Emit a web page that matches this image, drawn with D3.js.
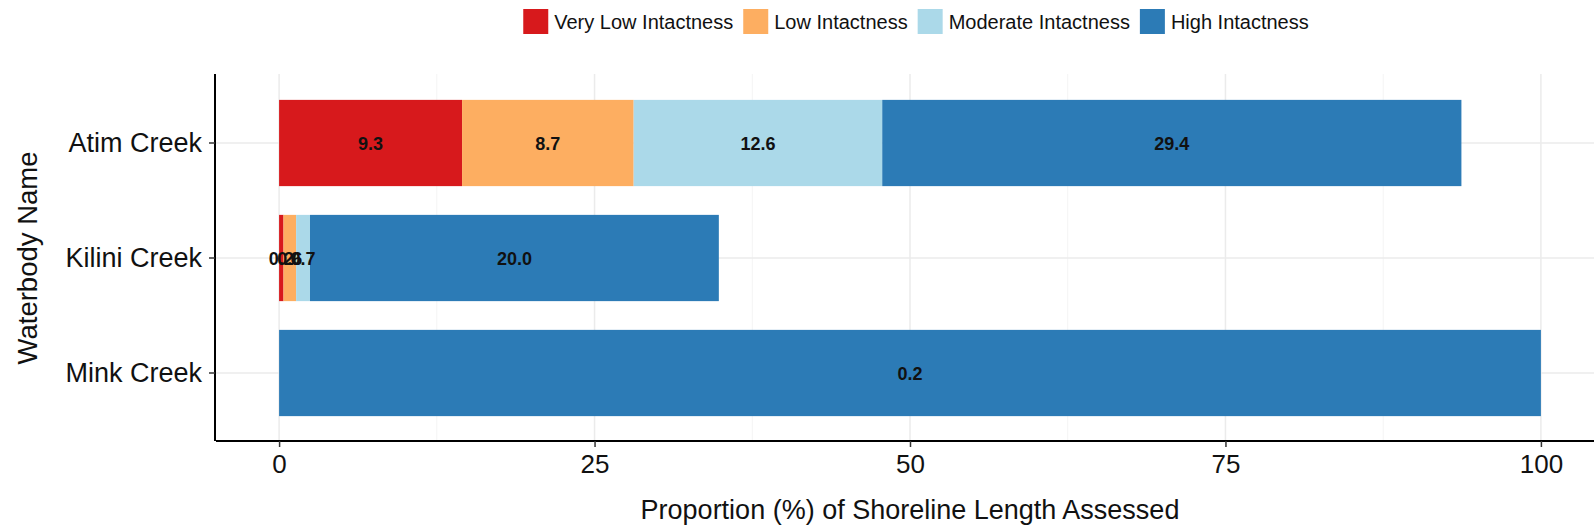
<!DOCTYPE html>
<html>
<head>
<meta charset="utf-8">
<script src="https://cdn.jsdelivr.net/npm/d3@7"></script>
<style>
  body { margin: 0; background: #fff; }
  svg { display: block; font-family: "Liberation Sans", Arial, sans-serif; }
</style>
</head>
<body>
<svg id="chart" width="1594" height="532"></svg>
<script>
const waterbodies = ["Atim Creek", "Kilini Creek", "Mink Creek"];
const classes = ["Very Low Intactness", "Low Intactness", "Moderate Intactness", "High Intactness"];
const classColors = ["#d7191c", "#fdae61", "#abd9e9", "#2c7bb6"];

// shoreline length (label values) per class, one entry per waterbody
const veryLowKm = [9.3, 0.2, null];
const lowKm = [8.7, 0.6, null];
const moderateKm = [12.6, 0.7, null];
const highKm = [29.4, 20.0, 0.2];

// proportion (%) of shoreline length assessed
const veryLowPct = [14.5, 0.35, 0];
const lowPct = [13.6, 1.0, 0];
const moderatePct = [19.7, 1.1, 0];
const highPct = [45.9, 32.4, 100];

const xTicks = [0, 25, 50, 75, 100];
const xMinor = [12.5, 37.5, 62.5, 87.5];

const pctByClass = [veryLowPct, lowPct, moderatePct, highPct];
const kmByClass = [veryLowKm, lowKm, moderateKm, highKm];

const table = waterbodies.map((name, i) => {
  const row = { name };
  classes.forEach((c, j) => { row[c] = pctByClass[j][i]; });
  return row;
});

const svg = d3.select("#chart");

const x = d3.scaleLinear().domain([-5, 105]).range([216, 1604]);
const y = d3.scaleBand()
  .domain(waterbodies)
  .range([74, 442])
  .paddingInner(0.25)
  .paddingOuter(0.225);

const panelTop = 74, panelBottom = 441;

// grid
const grid = svg.append("g");
grid.selectAll(".minor")
  .data(xMinor)
  .join("line")
  .attr("x1", (d) => x(d)).attr("x2", (d) => x(d))
  .attr("y1", panelTop).attr("y2", panelBottom)
  .attr("stroke", "#f4f4f4")
  .attr("stroke-width", 1);
grid.selectAll(".major")
  .data(xTicks)
  .join("line")
  .attr("x1", (d) => x(d)).attr("x2", (d) => x(d))
  .attr("y1", panelTop).attr("y2", panelBottom)
  .attr("stroke", "#ebebeb")
  .attr("stroke-width", 1.5);
grid.selectAll(".hline")
  .data(waterbodies)
  .join("line")
  .attr("x1", 216).attr("x2", 1604)
  .attr("y1", (d) => y(d) + y.bandwidth() / 2)
  .attr("y2", (d) => y(d) + y.bandwidth() / 2)
  .attr("stroke", "#ebebeb")
  .attr("stroke-width", 1.5);

// bars
const stacked = d3.stack().keys(classes)(table);

const layers = svg.append("g")
  .selectAll("g")
  .data(stacked)
  .join("g")
  .attr("fill", (d, i) => classColors[i]);

layers.selectAll("rect")
  .data((d) => d.filter((s) => s[1] - s[0] > 0))
  .join("rect")
  .attr("x", (d) => x(d[0]))
  .attr("y", (d) => y(d.data.name))
  .attr("width", (d) => x(d[1]) - x(d[0]))
  .attr("height", y.bandwidth());

// bar labels (the tiny Kilini ones overlap, as in the original)
const labels = [];
stacked.forEach((layer, j) => {
  layer.forEach((s, i) => {
    const km = kmByClass[j][i];
    if (km !== null && s[1] - s[0] > 0) {
      labels.push({ name: s.data.name, mid: (s[0] + s[1]) / 2, text: km.toFixed(1) });
    }
  });
});

svg.append("g")
  .selectAll("text")
  .data(labels)
  .join("text")
  .attr("x", (d) => x(d.mid))
  .attr("y", (d) => y(d.name) + y.bandwidth() / 2 + 6.5)
  .attr("text-anchor", "middle")
  .style("font-size", "18px")
  .style("font-weight", "bold")
  .style("fill", "#111")
  .text((d) => d.text);

// axes
const xAxis = svg.append("g")
  .attr("transform", `translate(0,${panelBottom})`)
  .call(d3.axisBottom(x).tickValues(xTicks).tickSize(6).tickPadding(8));
xAxis.select(".domain").attr("d", `M216,0H1604`).attr("stroke", "#000").attr("stroke-width", 2);
xAxis.selectAll(".tick line").attr("stroke", "#333").attr("stroke-width", 1.5);
xAxis.selectAll(".tick text")
  .style("font-size", "26px")
  .style("font-family", "'Liberation Sans', Arial, sans-serif")
  .style("fill", "#111");

const yAxis = svg.append("g")
  .attr("transform", "translate(215,0)")
  .call(d3.axisLeft(y).tickSize(6).tickPadding(7));
yAxis.select(".domain").attr("d", `M0,${panelTop}V${panelBottom}`).attr("stroke", "#000").attr("stroke-width", 2);
yAxis.selectAll(".tick line").attr("stroke", "#333").attr("stroke-width", 1.5);
yAxis.selectAll(".tick text")
  .style("font-size", "27px")
  .style("font-family", "'Liberation Sans', Arial, sans-serif")
  .style("fill", "#111");

// axis titles
svg.append("text")
  .attr("x", 910)
  .attr("y", 519)
  .attr("text-anchor", "middle")
  .style("font-size", "27px")
  .style("fill", "#111")
  .text("Proportion (%) of Shoreline Length Assessed");

svg.append("text")
  .attr("transform", "translate(37,258) rotate(-90)")
  .attr("text-anchor", "middle")
  .style("font-size", "27.5px")
  .style("fill", "#111")
  .text("Waterbody Name");

// legend
const legend = svg.append("g");
const items = legend.selectAll("g")
  .data(classes)
  .join("g");
items.append("rect")
  .attr("width", 25)
  .attr("height", 25)
  .attr("y", 9)
  .attr("fill", (d, i) => classColors[i]);
items.append("text")
  .attr("x", 31)
  .attr("y", 29)
  .style("font-size", "20px")
  .style("fill", "#111")
  .text((d) => d);

let offset = 0;
const positions = [];
items.each(function () {
  positions.push(offset);
  const w = d3.select(this).select("text").node().getComputedTextLength();
  offset += 31 + w + 10;
});
const legendWidth = offset - 10;
const legendStart = 916 - legendWidth / 2;
items.attr("transform", (d, i) => `translate(${legendStart + positions[i]},0)`);
</script>
</body>
</html>
